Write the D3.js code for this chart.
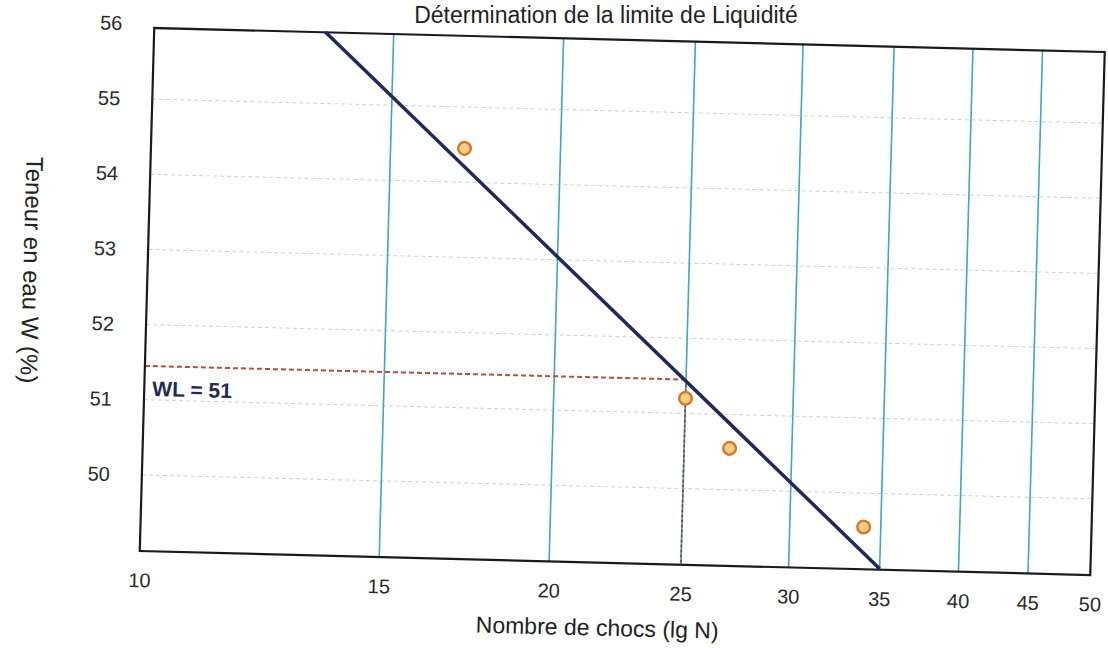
<!DOCTYPE html>
<html>
<head>
<meta charset="utf-8">
<script src="https://cdn.jsdelivr.net/npm/d3@7"></script>
<style>
  html, body { margin: 0; padding: 0; background: #ffffff; }
  svg { display: block; }
  text { font-family: "Liberation Sans", Arial, Helvetica, sans-serif; }
</style>
</head>
<body>
<svg id="chart" width="1108" height="648"></svg>
<script>
// ---- data ----
const chartTitle = "Détermination de la limite de Liquidité";
const xTitle = "Nombre de chocs (lg N)";
const yTitle = "Teneur en eau W (%)";
const blowsN = [17, 25, 27, 34];               // nombre de chocs
const waterW = [54.45, 51.2, 50.55, 49.55];    // teneur en eau (%)
const fitN = [13.36, 35];                      // droite d'ajustement
const fitW = [55.95, 49.0];
const refN = 25;
const liquidLimitLine = 51.45;
const liquidLimitLabel = "WL = 51";
const xTickValues = [10, 15, 20, 25, 30, 35, 40, 45, 50];
const yTickValues = [50, 51, 52, 53, 54, 55, 56];
const xGridValues = [15, 20, 25, 30, 35, 40, 45];
const yGridValues = [50, 51, 52, 53, 54, 55];

// ---- layout ----
const W = 950, H = 523;
const svg = d3.select("#chart");

svg.append("text")
  .attr("x", 606).attr("y", 23)
  .attr("text-anchor", "middle")
  .attr("font-size", 23)
  .attr("fill", "#222")
  .text(chartTitle);

// slight skew/rotation, like the scanned original
const g = svg.append("g")
  .attr("transform", "matrix(1.0005,0.0253,-0.0277,1,154.25,28)");

const x = d3.scaleLog().domain([10, 50]).range([0, W]);
const y = d3.scaleLinear().domain([49, 56]).range([522, -4]);

// horizontal grid
g.append("g").selectAll("line").data(yGridValues).join("line")
  .attr("x1", 0).attr("x2", W)
  .attr("y1", d => y(d)).attr("y2", d => y(d))
  .attr("stroke", "#cfcfcf").attr("stroke-width", 1)
  .attr("stroke-dasharray", "4,3");

// vertical grid
g.append("g").selectAll("line").data(xGridValues).join("line")
  .attr("x1", d => x(d)).attr("x2", d => x(d))
  .attr("y1", 0).attr("y2", H)
  .attr("stroke", "#3fa6c4").attr("stroke-width", 1.6);

// reference dashed lines
g.append("line")
  .attr("x1", 0).attr("x2", x(refN))
  .attr("y1", y(liquidLimitLine)).attr("y2", y(liquidLimitLine))
  .attr("stroke", "#b0523c").attr("stroke-width", 2)
  .attr("stroke-dasharray", "5,3");
g.append("line")
  .attr("x1", x(refN)).attr("x2", x(refN))
  .attr("y1", y(liquidLimitLine)).attr("y2", H)
  .attr("stroke", "#8b3b2e").attr("stroke-width", 1.6)
  .attr("stroke-dasharray", "3,2");

// frame
g.append("rect")
  .attr("x", 0).attr("y", 0).attr("width", W).attr("height", H)
  .attr("fill", "none").attr("stroke", "#1a1a1a").attr("stroke-width", 2.2);

// fit line
const fitData = fitN.map((n, i) => ({ n, w: fitW[i] }));
g.append("path")
  .datum(fitData)
  .attr("d", d3.line().x(d => x(d.n)).y(d => y(d.w)))
  .attr("fill", "none")
  .attr("stroke", "#1f2a5a").attr("stroke-width", 3.5);

// points
const pts = blowsN.map((n, i) => ({ n, w: waterW[i] }));
g.append("g").selectAll("circle").data(pts).join("circle")
  .attr("cx", d => x(d.n)).attr("cy", d => y(d.w))
  .attr("r", 6.3)
  .attr("fill", "#f6cf86")
  .attr("stroke", "#d9782a").attr("stroke-width", 2.5);

// label
g.append("text")
  .attr("x", 8).attr("y", y(liquidLimitLine) + 30)
  .attr("font-size", 21).attr("font-weight", "bold")
  .attr("fill", "#1f2a5a")
  .text(liquidLimitLabel);

// axes
const xAxis = g.append("g")
  .attr("transform", `translate(0,${H})`)
  .call(d3.axisBottom(x).tickValues(xTickValues).tickFormat(d3.format("d"))
    .tickSize(0).tickPadding(22));
const yAxis = g.append("g")
  .call(d3.axisLeft(y).tickValues(yTickValues).tickFormat(d3.format("d"))
    .tickSize(0).tickPadding(32));
[xAxis, yAxis].forEach(a => {
  a.select(".domain").remove();
  a.selectAll("text")
    .attr("font-size", 20)
    .attr("fill", "#2a2a2a")
    .style("font-family", "'Liberation Sans', Arial, sans-serif");
});

// axis titles
g.append("text")
  .attr("x", 459).attr("y", 596)
  .attr("text-anchor", "middle")
  .attr("font-size", 23)
  .attr("fill", "#222")
  .text(xTitle);
g.append("text")
  .attr("transform", "translate(-124,245) rotate(90)")
  .attr("text-anchor", "middle")
  .attr("font-size", 24)
  .attr("fill", "#222")
  .text(yTitle);
</script>
</body>
</html>
